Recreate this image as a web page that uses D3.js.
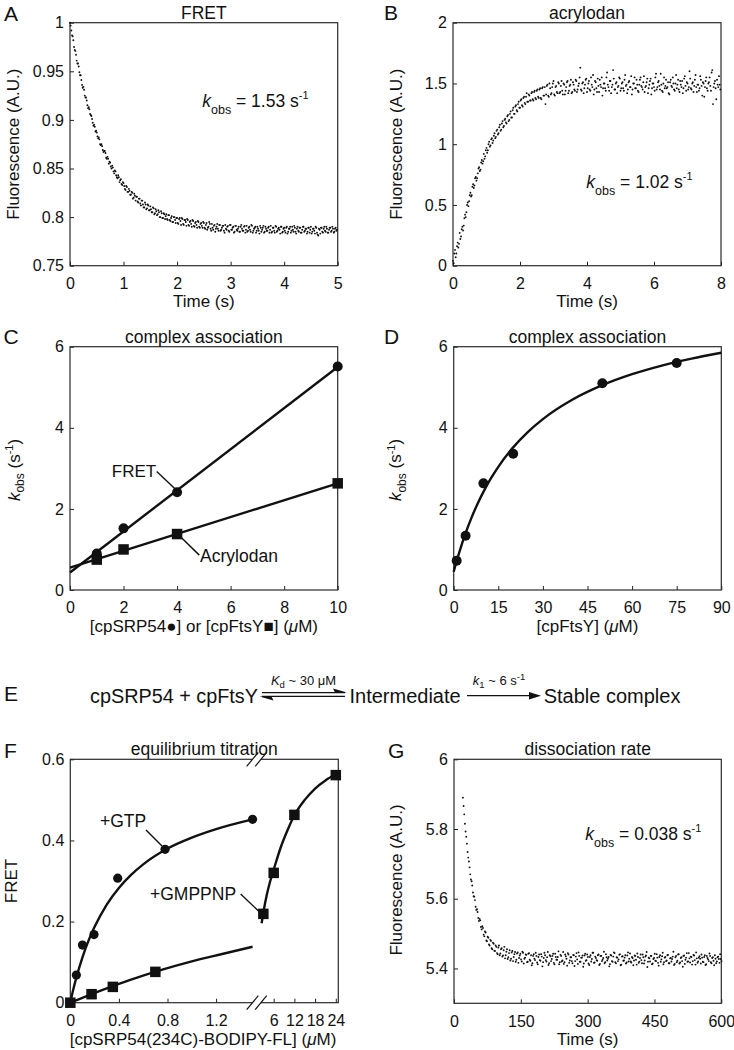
<!DOCTYPE html>
<html><head><meta charset="utf-8">
<script src="https://cdn.jsdelivr.net/npm/d3@7"></script>
<style>
body{margin:0;background:#fff}
svg{display:block}
text{font-family:"Liberation Sans",Arial,Helvetica,sans-serif;fill:#111}
</style>
</head><body>
<svg id="fig" width="734" height="1050"></svg>
<script>
// ---------------- DATA ----------------
// Panel A: FRET trace, two interleaved sample sets (every fretDt s)
const fretT0 = 0, fretT0b = 0.0125, fretDt = 0.025;
const fretA = [1.000,0.992,0.986,0.975,0.971,0.961,0.958,0.949,0.946,0.936,0.934,0.925,0.923,0.915,0.913,0.906,0.904,0.897,0.895,0.888,
0.887,0.881,0.880,0.874,0.873,0.867,0.868,0.861,0.862,0.855,0.856,0.850,0.851,0.845,0.847,0.841,0.843,0.836,0.839,0.833,
0.835,0.829,0.832,0.826,0.829,0.823,0.826,0.819,0.824,0.817,0.821,0.815,0.819,0.812,0.817,0.810,0.815,0.808,0.813,0.807,
0.811,0.805,0.810,0.803,0.808,0.802,0.807,0.800,0.806,0.799,0.804,0.798,0.803,0.797,0.802,0.796,0.801,0.795,0.800,0.794,
0.799,0.793,0.799,0.792,0.798,0.792,0.797,0.791,0.797,0.791,0.796,0.790,0.796,0.790,0.795,0.789,0.795,0.789,0.794,0.789,
0.794,0.788,0.794,0.789,0.795,0.788,0.793,0.787,0.792,0.788,0.793,0.786,0.792,0.787,0.791,0.786,0.792,0.787,0.791,0.785,
0.792,0.787,0.790,0.785,0.791,0.786,0.790,0.785,0.792,0.786,0.790,0.784,0.791,0.786,0.790,0.785,0.791,0.786,0.789,0.784,
0.790,0.786,0.791,0.785,0.789,0.784,0.790,0.786,0.789,0.784,0.791,0.785,0.789,0.784,0.790,0.786,0.789,0.783,0.790,0.785,
0.789,0.784,0.790,0.785,0.788,0.784,0.790,0.785,0.789,0.783,0.790,0.785,0.789,0.784,0.790,0.785,0.788,0.783,0.789,0.784,
0.790,0.785,0.788,0.783,0.789,0.782,0.788,0.783,0.789,0.784,0.790,0.785,0.788,0.784,0.789,0.785,0.790,0.784,0.788,0.786];
const fretA2 = [0.997,0.987,0.982,0.972,0.967,0.958,0.955,0.946,0.941,0.933,0.931,0.923,0.920,0.912,0.911,0.905,0.901,0.894,0.893,0.889,
0.883,0.882,0.875,0.875,0.869,0.868,0.866,0.860,0.860,0.857,0.852,0.853,0.847,0.848,0.843,0.840,0.841,0.838,0.834,0.836,
0.832,0.828,0.831,0.826,0.827,0.823,0.825,0.820,0.822,0.821,0.816,0.819,0.814,0.817,0.813,0.810,0.813,0.809,0.812,0.807,
0.808,0.805,0.809,0.804,0.806,0.803,0.805,0.800,0.804,0.799,0.803,0.801,0.798,0.802,0.797,0.799,0.795,0.800,0.797,0.799,
0.794,0.798,0.796,0.799,0.793,0.797,0.795,0.798,0.792,0.795,0.793,0.797,0.791,0.794,0.792,0.796,0.790,0.793,0.791,0.795,
0.789,0.792,0.787,0.790,0.793,0.786,0.789,0.791,0.785,0.790,0.788,0.792,0.786,0.789,0.791,0.784,0.788,0.790,0.786,0.792,
0.787,0.789,0.784,0.791,0.787,0.788,0.785,0.790,0.788,0.786,0.791,0.787,0.785,0.789,0.787,0.792,0.784,0.788,0.790,0.786,
0.788,0.783,0.789,0.787,0.791,0.785,0.788,0.786,0.790,0.787,0.784,0.789,0.786,0.791,0.785,0.788,0.787,0.790,0.784,0.788,
0.786,0.789,0.783,0.788,0.790,0.786,0.787,0.791,0.785,0.788,0.786,0.789,0.784,0.787,0.790,0.786,0.788,0.785,0.789,0.787,
0.783,0.788,0.786,0.790,0.784,0.781,0.787,0.789,0.785,0.788,0.786,0.790,0.784,0.787,0.789,0.786,0.788,0.785,0.789,0.787];

// Panel B: acrylodan trace, two interleaved sample sets
const acryT0 = 0, acryT0b = 0.02, acryDt = 0.04;
const acryB = [0.04,0.10,0.07,0.16,0.15,0.27,0.24,0.32,0.33,0.42,0.44,0.52,0.53,0.60,0.58,0.67,0.66,0.73,0.72,0.80,
0.78,0.85,0.84,0.92,0.90,0.97,0.95,1.02,0.99,1.05,1.03,1.09,1.06,1.12,1.09,1.16,1.12,1.19,1.15,1.21,
1.17,1.24,1.20,1.27,1.22,1.30,1.25,1.32,1.27,1.35,1.30,1.37,1.31,1.39,1.33,1.42,1.35,1.40,1.36,1.43,
1.36,1.44,1.37,1.45,1.38,1.46,1.37,1.47,1.40,1.33,1.48,1.40,1.50,1.41,1.47,1.52,1.40,1.48,1.42,1.50,
1.43,1.52,1.41,1.49,1.44,1.51,1.42,1.48,1.53,1.43,1.49,1.44,1.52,1.45,1.50,1.63,1.44,1.51,1.46,1.53,
1.43,1.50,1.45,1.55,1.47,1.41,1.52,1.46,1.54,1.43,1.49,1.55,1.46,1.50,1.44,1.59,1.47,1.52,1.42,1.49,
1.54,1.45,1.51,1.47,1.55,1.44,1.50,1.46,1.53,1.48,1.42,1.51,1.47,1.56,1.45,1.50,1.46,1.53,1.44,1.49,
1.55,1.47,1.51,1.43,1.48,1.54,1.46,1.52,1.41,1.50,1.47,1.55,1.45,1.51,1.48,1.58,1.44,1.50,1.46,1.53,
1.47,1.42,1.51,1.48,1.55,1.45,1.50,1.46,1.53,1.43,1.49,1.52,1.46,1.56,1.44,1.50,1.47,1.54,1.45,1.51,
1.48,1.57,1.43,1.49,1.46,1.53,1.40,1.50,1.47,1.55,1.44,1.51,1.48,1.59,1.33,1.50,1.46,1.53,1.47,1.49];
const acryB2 = [0.02,0.13,0.10,0.19,0.18,0.22,0.30,0.29,0.39,0.40,0.50,0.49,0.58,0.57,0.65,0.64,0.72,0.70,0.76,0.81,
0.79,0.87,0.86,0.88,0.95,0.93,1.00,0.98,1.04,1.01,1.07,1.05,1.11,1.08,1.14,1.11,1.17,1.14,1.20,1.18,
1.23,1.19,1.25,1.22,1.28,1.25,1.31,1.28,1.33,1.30,1.36,1.32,1.38,1.34,1.39,1.35,1.41,1.36,1.42,1.37,
1.43,1.38,1.44,1.39,1.45,1.38,1.46,1.40,1.47,1.41,1.49,1.39,1.46,1.42,1.50,1.41,1.47,1.43,1.51,1.42,
1.48,1.44,1.50,1.41,1.47,1.52,1.44,1.49,1.42,1.51,1.45,1.53,1.43,1.48,1.55,1.45,1.50,1.42,1.49,1.54,
1.46,1.52,1.44,1.49,1.57,1.45,1.51,1.43,1.48,1.53,1.47,1.40,1.50,1.46,1.55,1.49,1.44,1.52,1.47,1.61,
1.45,1.50,1.42,1.48,1.54,1.46,1.51,1.44,1.57,1.49,1.45,1.52,1.47,1.41,1.50,1.55,1.46,1.49,1.43,1.53,
1.48,1.45,1.56,1.47,1.51,1.42,1.49,1.54,1.46,1.50,1.44,1.58,1.47,1.52,1.45,1.49,1.43,1.55,1.48,1.46,
1.51,1.41,1.53,1.47,1.50,1.44,1.57,1.49,1.45,1.52,1.47,1.42,1.54,1.48,1.51,1.45,1.60,1.46,1.50,1.43,
1.53,1.47,1.49,1.44,1.56,1.48,1.51,1.39,1.52,1.46,1.50,1.55,1.44,1.61,1.47,1.52,1.37,1.49,1.56,1.45];

// Panel C: complex association, linear dependence
const cConc = [1, 2, 4, 10];
const cFret = [0.90, 1.52, 2.41, 5.51];
const cAcryl = [0.75, 1.00, 1.38, 2.63];
const cFretFitX = [0, 10], cFretFitY = [0.43, 5.50];
const cAcrylFitX = [0, 10], cAcrylFitY = [0.55, 2.63];

// Panel D: complex association vs cpFtsY
const dConc = [1, 4, 10, 20, 50, 75];
const dKobs = [0.72, 1.34, 2.63, 3.36, 5.10, 5.60];
const dFitX = [0,1,2,4,6,8,10,12.5,15,20,25,30,40,50,60,70,80,90];
const dFitY = [0.45,0.715,0.961,1.402,1.785,2.123,2.421,2.75,3.038,3.517,3.90,4.214,4.696,5.05,5.321,5.534,5.707,5.85];

// Panel F: equilibrium titration
const fGtpConc = [0.05, 0.1, 0.195, 0.39, 0.78, 1.5];
const fGtpFret = [0.068, 0.142, 0.168, 0.307, 0.378, 0.452];
const fGtpFitX = [0,0.025,0.05,0.1,0.15,0.2,0.3,0.4,0.5,0.6,0.8,1.0,1.2,1.5];
const fGtpFitY = [0,0.033,0.062,0.112,0.153,0.187,0.242,0.283,0.315,0.341,0.380,0.407,0.428,0.452];
const fGmpLowConc = [0, 0.175, 0.35, 0.7];
const fGmpLowFret = [0, 0.021, 0.039, 0.076];
const fGmpLowFitX = [0,0.25,0.5,0.75,1.0,1.25,1.5];
const fGmpLowFitY = [0,0.030,0.057,0.081,0.102,0.120,0.138];
const fGmpHighConc = [3, 6, 12, 24];
const fGmpHighFret = [0.219, 0.320, 0.463, 0.561];
const fGmpHighFitX = [2.5,3,4,5,6,8,10,12,15,18,21,24];
const fGmpHighFitY = [0.196,0.222,0.266,0.300,0.328,0.382,0.425,0.462,0.500,0.528,0.548,0.563];

// Panel G: dissociation trace, two interleaved sample sets
const dissT0 = 20, dissT0b = 21.5, dissDt = 3;
const dissG = [5.890,5.842,5.793,5.758,5.718,5.690,5.655,5.638,5.607,5.596,5.568,5.562,5.536,5.538,5.512,5.516,5.492,5.503,5.478,5.488,
5.466,5.479,5.455,5.471,5.450,5.462,5.441,5.466,5.443,5.458,5.437,5.462,5.438,5.455,5.432,5.452,5.428,5.450,5.433,5.447,
5.425,5.446,5.430,5.442,5.420,5.445,5.428,5.440,5.418,5.442,5.425,5.438,5.415,5.441,5.424,5.436,5.412,5.440,5.422,5.434,
5.418,5.445,5.424,5.432,5.410,5.438,5.421,5.436,5.416,5.442,5.425,5.433,5.412,5.439,5.420,5.447,5.418,5.435,5.408,5.440,
5.423,5.432,5.415,5.438,5.421,5.444,5.413,5.436,5.419,5.431,5.405,5.437,5.422,5.440,5.414,5.433,5.420,5.445,5.416,5.434,
5.424,5.438,5.410,5.436,5.421,5.430,5.415,5.441,5.423,5.433,5.412,5.437,5.419,5.446,5.418,5.432,5.421,5.439,5.409,5.434,
5.422,5.431,5.414,5.437,5.420,5.443,5.417,5.430,5.423,5.436,5.411,5.433,5.419,5.440,5.415,5.432,5.423,5.437,5.404,5.431,
5.420,5.436,5.414,5.430,5.422,5.441,5.416,5.433,5.419,5.435,5.412,5.431,5.421,5.438,5.415,5.429,5.420,5.434,5.410,5.432,
5.418,5.440,5.414,5.430,5.421,5.436,5.413,5.431,5.419,5.444,5.417,5.433,5.421,5.437,5.411,5.429,5.420,5.435,5.414,5.431,
5.418,5.438,5.412,5.430,5.421,5.436,5.415,5.432,5.409,5.428,5.420,5.434,5.416,5.427];
const dissG2 = [5.866,5.815,5.778,5.734,5.707,5.670,5.650,5.618,5.606,5.577,5.570,5.545,5.542,5.519,5.521,5.497,5.506,5.480,5.491,5.469,
5.482,5.458,5.474,5.451,5.466,5.444,5.460,5.438,5.455,5.434,5.452,5.429,5.448,5.427,5.444,5.423,5.446,5.421,5.441,5.419,
5.443,5.416,5.437,5.426,5.448,5.414,5.431,5.439,5.419,5.444,5.422,5.409,5.436,5.428,5.445,5.417,5.433,5.424,5.441,5.406,
5.430,5.438,5.420,5.447,5.415,5.435,5.427,5.442,5.412,5.433,5.425,5.449,5.418,5.436,5.423,5.413,5.440,5.428,5.444,5.416,
5.432,5.421,5.439,5.407,5.434,5.426,5.446,5.419,5.431,5.437,5.414,5.442,5.424,5.433,5.410,5.438,5.427,5.445,5.417,5.430,
5.422,5.440,5.413,5.436,5.425,5.448,5.418,5.432,5.428,5.406,5.439,5.421,5.434,5.444,5.415,5.431,5.426,5.441,5.411,5.435,
5.423,5.438,5.417,5.446,5.428,5.420,5.433,5.409,5.437,5.425,5.443,5.416,5.430,5.424,5.440,5.414,5.434,5.447,5.419,5.429,
5.436,5.412,5.427,5.442,5.421,5.431,5.408,5.438,5.426,5.445,5.418,5.433,5.423,5.439,5.415,5.430,5.427,5.448,5.413,5.436,
5.422,5.441,5.417,5.432,5.405,5.437,5.425,5.444,5.420,5.429,5.434,5.411,5.439,5.424,5.446,5.416,5.431,5.428,5.440,5.419,
5.433,5.410,5.436,5.426,5.443,5.418,5.430,5.422,5.438,5.415,5.432,5.427,5.441,5.421];

// Tick values
const aXTicks = [0,1,2,3,4,5], aYTicks = [0.75,0.8,0.85,0.9,0.95,1];
const bXTicks = [0,2,4,6,8], bYTicks = [0,0.5,1,1.5,2];
const cXTicks = [0,2,4,6,8,10], cYTicks = [0,2,4,6];
const dXTicks = [0,15,30,45,60,75,90], dYTicks = [0,2,4,6];
const fXTicksLow = [0,0.4,0.8,1.2], fXTicksHigh = [6,12,18,24], fYTicks = [0,0.2,0.4,0.6];
const gXTicks = [0,150,300,450,600], gYTicks = [5.4,5.6,5.8,6];

// ---------------- DRAWING ----------------
const svg = d3.select("#fig");
const INK = "#111";

function styleAxis(sel){
  sel.select(".domain").remove();
  sel.attr("font-family", null).attr("font-size", null);
  sel.selectAll("text").attr("font-size", 16).style("fill", INK);
  sel.selectAll("line").attr("stroke", "#222").attr("stroke-width", 1);
}

function panel(p){
  const x = d3.scaleLinear().domain(p.xDom).range([p.x0, p.x1]);
  const y = d3.scaleLinear().domain(p.yDom).range([p.y1, p.y0]);
  const g = svg.append("g");
  if (p.xTicks) {
    g.append("g").attr("transform", `translate(0,${p.y1})`)
      .call(d3.axisBottom(x).tickValues(p.xTicks).tickSize(-4).tickPadding(12).tickFormat(String))
      .call(styleAxis);
  }
  g.append("g").attr("transform", `translate(${p.x0},0)`)
    .call(d3.axisLeft(y).tickValues(p.yTicks).tickSize(-4).tickPadding(6).tickFormat(String))
    .call(styleAxis);
  g.append("rect").attr("x", p.x0).attr("y", p.y0)
    .attr("width", p.x1 - p.x0).attr("height", p.y1 - p.y0)
    .attr("fill", "none").attr("stroke", "#2a2a2a").attr("stroke-width", 1.2);
  g.append("text").attr("x", (p.x0 + p.x1) / 2).attr("y", p.y0 - 4)
    .attr("text-anchor", "middle").attr("font-size", 17.5).text(p.title);
  svg.append("text").attr("x", p.lx).attr("y", p.ly).attr("font-size", 21).text(p.letter);
  return {x, y, g};
}

function xLabel(cx, by, parts){
  const t = svg.append("text").attr("x", cx).attr("y", by).attr("text-anchor", "middle").attr("font-size", 17);
  parts.forEach(pt => {
    const s = t.append("tspan").text(pt.t);
    if (pt.i) s.attr("font-style", "italic");
    if (pt.fs) s.attr("font-size", pt.fs);
    if (pt.dy) s.attr("dy", pt.dy);
  });
  return t;
}
function yLabel(bx, cy, parts){
  const t = xLabel(0, 0, parts);
  t.attr("transform", `translate(${bx},${cy}) rotate(-90)`);
  return t;
}
const kobsParts = [
  {t:"k", i:true}, {t:"obs", fs:12, dy:4.5}, {t:" (s", dy:-4.5}, {t:"-1", fs:11, dy:-6.5}, {t:")", dy:6.5}
];

function kobsNote(px, py, val){
  const t = svg.append("text").attr("x", px).attr("y", py).attr("font-size", 17.5);
  t.append("tspan").attr("font-style", "italic").text("k");
  t.append("tspan").attr("font-size", 12.5).attr("dy", 7).text("obs");
  t.append("tspan").attr("dy", -7).text(" = " + val + " s");
  t.append("tspan").attr("font-size", 11).attr("dy", -8).text("-1");
}

function dots(g, x, y, t0, dt, vals){
  g.append("g").selectAll("circle").data(vals).join("circle")
    .attr("cx", (d, i) => x(t0 + i * dt)).attr("cy", d => y(d))
    .attr("r", 0.95).attr("fill", INK);
}

function fitLine(g, x, y, xs, ys, w){
  const pts = xs.map((v, i) => [v, ys[i]]);
  g.append("path").datum(pts)
    .attr("d", d3.line().x(d => x(d[0])).y(d => y(d[1])).curve(d3.curveMonotoneX))
    .attr("fill", "none").attr("stroke", INK).attr("stroke-width", w || 2.4);
}
function circles(g, x, y, xs, ys, r){
  g.append("g").selectAll("circle").data(xs).join("circle")
    .attr("cx", d => x(d)).attr("cy", (d, i) => y(ys[i])).attr("r", r).attr("fill", INK);
}
function squares(g, x, y, xs, ys, s){
  g.append("g").selectAll("rect").data(xs).join("rect")
    .attr("x", d => x(d) - s / 2).attr("y", (d, i) => y(ys[i]) - s / 2)
    .attr("width", s).attr("height", s).attr("fill", INK);
}
function leader(g, x, y, a, b){
  g.append("line").attr("x1", x(a[0])).attr("y1", y(a[1])).attr("x2", x(b[0])).attr("y2", y(b[1]))
    .attr("stroke", INK).attr("stroke-width", 1.4);
}
function note(g, x, y, pos, txt, fs){
  g.append("text").attr("x", x(pos[0])).attr("y", y(pos[1])).attr("font-size", fs || 17.5).text(txt);
}

// ---- A ----
const A = panel({x0:70, x1:337.7, y0:22.7, y1:265.7, xDom:[0,5], yDom:[0.75,1],
  xTicks:aXTicks, yTicks:aYTicks, title:"FRET", letter:"A", lx:4, ly:20.5});
dots(A.g, A.x, A.y, fretT0, fretDt, fretA);
dots(A.g, A.x, A.y, fretT0b, fretDt, fretA2);
kobsNote(A.x(2.47), A.y(0.9135), "1.53");
yLabel(18.5, (22.7 + 265.7) / 2, [{t:"Fluorescence (A.U.)"}]);
xLabel((70 + 337.7) / 2, 307.2, [{t:"Time (s)"}]);

// ---- B ----
const B = panel({x0:453, x1:721, y0:22.7, y1:265.7, xDom:[0,8], yDom:[0,2],
  xTicks:bXTicks, yTicks:bYTicks, title:"acrylodan", letter:"B", lx:384, ly:20});
dots(B.g, B.x, B.y, acryT0, acryDt, acryB);
dots(B.g, B.x, B.y, acryT0b, acryDt, acryB2);
kobsNote(B.x(3.98), B.y(0.637), "1.02");
yLabel(401.5, (22.7 + 265.7) / 2, [{t:"Fluorescence (A.U.)"}]);
xLabel((453 + 721) / 2, 307.2, [{t:"Time (s)"}]);

// ---- C ----
const C = panel({x0:70, x1:337.7, y0:346.7, y1:590, xDom:[0,10], yDom:[0,6],
  xTicks:cXTicks, yTicks:cYTicks, title:"complex association", letter:"C", lx:3.5, ly:343.5});
fitLine(C.g, C.x, C.y, cFretFitX, cFretFitY);
fitLine(C.g, C.x, C.y, cAcrylFitX, cAcrylFitY);
circles(C.g, C.x, C.y, cConc, cFret, 5);
squares(C.g, C.x, C.y, cConc, cAcryl, 10.5);
note(C.g, C.x, C.y, [1.56, 2.79], "FRET", 17);
leader(C.g, C.x, C.y, [3.24, 2.92], [3.96, 2.47]);
note(C.g, C.x, C.y, [4.86, 0.70], "Acrylodan");
leader(C.g, C.x, C.y, [4.05, 1.36], [4.83, 0.86]);
yLabel(19.5, 470, kobsParts);
xLabel((70 + 337.7) / 2, 631.5, [{t:"[cpSRP54\u25CF] or [cpFtsY\u25A0] ("}, {t:"\u03BC", i:true}, {t:"M)"}]);

// ---- D ----
const D = panel({x0:453.7, x1:721.3, y0:346.7, y1:590, xDom:[0,90], yDom:[0,6],
  xTicks:dXTicks, yTicks:dYTicks, title:"complex association", letter:"D", lx:384, ly:343.5});
fitLine(D.g, D.x, D.y, dFitX, dFitY);
circles(D.g, D.x, D.y, dConc, dKobs, 5);
yLabel(401, 470, kobsParts);
xLabel((453.7 + 721.3) / 2, 631.5, [{t:"[cpFtsY] ("}, {t:"\u03BC", i:true}, {t:"M)"}]);

// ---- E (scheme) ----
(function(){
  svg.append("text").attr("x", 4).attr("y", 700.5).attr("font-size", 21).text("E");
  svg.append("text").attr("x", 90).attr("y", 703.3).attr("font-size", 20)
    .attr("textLength", 168).attr("lengthAdjust", "spacingAndGlyphs").text("cpSRP54 + cpFtsY");
  svg.append("text").attr("x", 349.5).attr("y", 703.3).attr("font-size", 20).text("Intermediate");
  svg.append("text").attr("x", 543.7).attr("y", 703.3).attr("font-size", 20).text("Stable complex");
  // equilibrium half-arrows
  svg.append("line").attr("x1", 262).attr("y1", 692.6).attr("x2", 345).attr("y2", 692.6).attr("stroke", INK).attr("stroke-width", 1.3);
  svg.append("path").attr("d", "M347,692.6 L333,688.6 L335,692.6 Z").attr("fill", INK);
  svg.append("line").attr("x1", 262).attr("y1", 696.4).attr("x2", 345).attr("y2", 696.4).attr("stroke", INK).attr("stroke-width", 1.3);
  svg.append("path").attr("d", "M259.5,696.4 L273.5,700.4 L271.5,696.4 Z").attr("fill", INK);
  // irreversible arrow
  svg.append("line").attr("x1", 467).attr("y1", 695.7).attr("x2", 532).attr("y2", 695.7).attr("stroke", INK).attr("stroke-width", 1.3);
  svg.append("path").attr("d", "M541,695.7 L529,691.9 L529,699.5 Z").attr("fill", INK);
  // rate constants
  const t1 = svg.append("text").attr("x", 303.5).attr("y", 685).attr("text-anchor", "middle").attr("font-size", 13);
  t1.append("tspan").attr("font-style", "italic").text("K");
  t1.append("tspan").attr("font-size", 9.5).attr("dy", 3).text("d");
  t1.append("tspan").attr("dy", -3).text(" ~ 30 \u03BCM");
  const t2 = svg.append("text").attr("x", 499).attr("y", 685).attr("text-anchor", "middle").attr("font-size", 13);
  t2.append("tspan").attr("font-style", "italic").text("k");
  t2.append("tspan").attr("font-size", 9.5).attr("dy", 3).text("1");
  t2.append("tspan").attr("dy", -3).text(" ~ 6 s");
  t2.append("tspan").attr("font-size", 9.5).attr("dy", -5).text("-1");
})();

// ---- F (broken x axis) ----
(function(){
  const x0 = 70.3, x1 = 338.3, y0 = 759.3, y1 = 1002.7;
  const xL = d3.scaleLinear().domain([0, 1.2]).range([70.3, 216.1]);
  const xR = d3.scaleLinear().domain([0, 24]).range([253, 335.8]);
  const F = panel({x0, x1, y0, y1, xDom:[0,1], yDom:[0,0.6], xTicks:null,
    yTicks:fYTicks, title:"equilibrium titration", letter:"F", lx:4, ly:758});
  const y = F.y, g = F.g;
  g.append("g").attr("transform", `translate(0,${y1})`)
    .call(d3.axisBottom(xL).tickValues(fXTicksLow).tickSize(-4).tickPadding(12).tickFormat(String)).call(styleAxis);
  g.append("g").attr("transform", `translate(0,${y1})`)
    .call(d3.axisBottom(xR).tickValues(fXTicksHigh).tickSize(-4).tickPadding(12).tickFormat(String)).call(styleAxis);
  // break marks
  [y0, y1].forEach(yy => {
    g.append("rect").attr("x", 252.5).attr("y", yy - 2).attr("width", 8.5).attr("height", 4).attr("fill", "#fff");
    g.append("line").attr("x1", 246.7).attr("y1", yy + 7).attr("x2", 258.3).attr("y2", yy - 7).attr("stroke", INK).attr("stroke-width", 1.2);
    g.append("line").attr("x1", 255.2).attr("y1", yy + 7).attr("x2", 266.7).attr("y2", yy - 7).attr("stroke", INK).attr("stroke-width", 1.2);
  });
  fitLine(g, xL, y, fGtpFitX, fGtpFitY);
  fitLine(g, xL, y, fGmpLowFitX, fGmpLowFitY);
  fitLine(g, xR, y, fGmpHighFitX, fGmpHighFitY);
  circles(g, xL, y, fGtpConc, fGtpFret, 4.6);
  squares(g, xL, y, fGmpLowConc, fGmpLowFret, 10.5);
  squares(g, xR, y, fGmpHighConc, fGmpHighFret, 10.5);
  note(g, xL, y, [0.244, 0.432], "+GTP", 17.5);
  leader(g, xL, y, [0.623, 0.426], [0.755, 0.386]);
  note(g, xL, y, [0.656, 0.253], "+GMPPNP", 17.5);
  leader(g, xL, y, [1.402, 0.268], [1.556, 0.224]);
  yLabel(16.7, 881, [{t:"FRET"}]);
  xLabel(203, 1044.5, [{t:"[cpSRP54(234C)-BODIPY-FL] ("}, {t:"\u03BC", i:true}, {t:"M)"}]);
})();

// ---- G ----
const G = panel({x0:454, x1:721.3, y0:759.3, y1:1003.3, xDom:[0,600], yDom:[5.3,6],
  xTicks:gXTicks, yTicks:gYTicks, title:"dissociation rate", letter:"G", lx:388, ly:757.5});
dots(G.g, G.x, G.y, dissT0, dissDt, dissG);
dots(G.g, G.x, G.y, dissT0b, dissDt, dissG2);
kobsNote(G.x(294.7), G.y(5.768), "0.038");
yLabel(401.5, 880, [{t:"Fluorescence (A.U.)"}]);
xLabel((454 + 721.3) / 2, 1044.5, [{t:"Time (s)"}]);
</script>
</body></html>
